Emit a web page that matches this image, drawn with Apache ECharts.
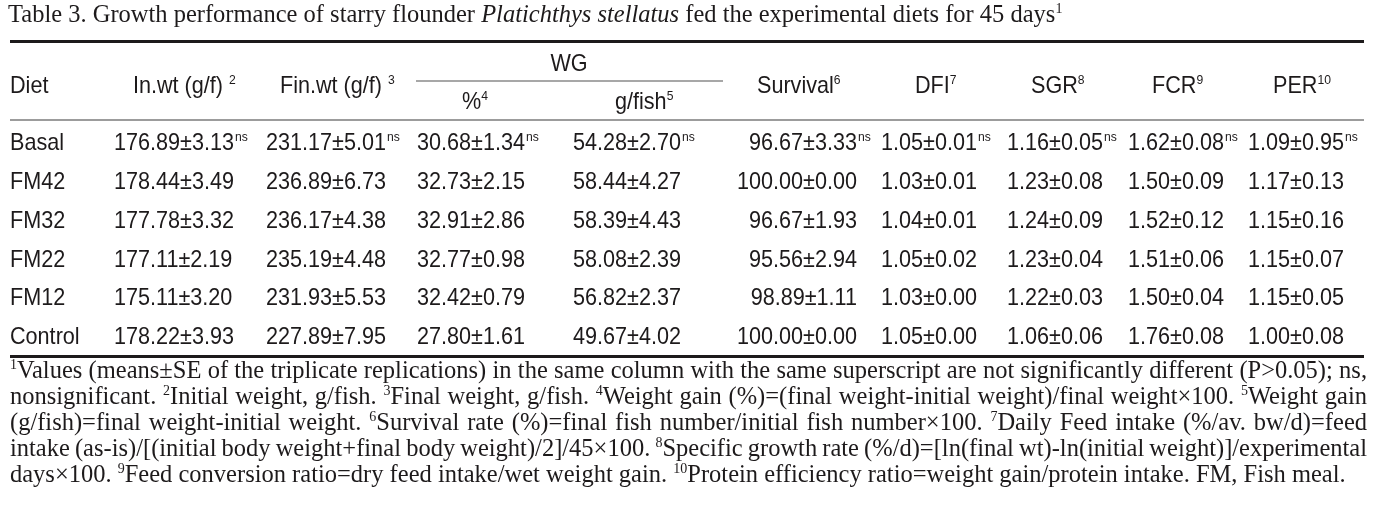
<!DOCTYPE html>
<html><head><meta charset="utf-8">
<script src="https://cdn.jsdelivr.net/npm/echarts@6/dist/echarts.min.js"></script>
<style>html,body{margin:0;padding:0;background:#fff}#c{width:1384px;height:526px}</style>
</head><body><div id="c"></div>
<script>
// ---------------- DATA ----------------
const diets = ['Basal', 'FM42', 'FM32', 'FM22', 'FM12', 'Control'];
const inWtMean = [176.89, 178.44, 177.78, 177.11, 175.11, 178.22];
const inWtSE   = [3.13, 3.49, 3.32, 2.19, 3.20, 3.93];
const finWtMean = [231.17, 236.89, 236.17, 235.19, 231.93, 227.89];
const finWtSE   = [5.01, 6.73, 4.38, 4.48, 5.53, 7.95];
const wgPctMean = [30.68, 32.73, 32.91, 32.77, 32.42, 27.80];
const wgPctSE   = [1.34, 2.15, 2.86, 0.98, 0.79, 1.61];
const wgGMean = [54.28, 58.44, 58.39, 58.08, 56.82, 49.67];
const wgGSE   = [2.70, 4.27, 4.43, 2.39, 2.37, 4.02];
const survivalMean = [96.67, 100.00, 96.67, 95.56, 98.89, 100.00];
const survivalSE   = [3.33, 0.00, 1.93, 2.94, 1.11, 0.00];
const dfiMean = [1.05, 1.03, 1.04, 1.05, 1.03, 1.05];
const dfiSE   = [0.01, 0.01, 0.01, 0.02, 0.00, 0.00];
const sgrMean = [1.16, 1.23, 1.24, 1.23, 1.22, 1.06];
const sgrSE   = [0.05, 0.08, 0.09, 0.04, 0.03, 0.06];
const fcrMean = [1.62, 1.50, 1.52, 1.51, 1.50, 1.76];
const fcrSE   = [0.08, 0.09, 0.12, 0.06, 0.04, 0.08];
const perMean = [1.09, 1.17, 1.15, 1.15, 1.15, 1.00];
const perSE   = [0.95, 0.13, 0.16, 0.07, 0.05, 0.08];
const sigMarks = ['ns', '', '', '', '', ''];

const titleText = ['Table 3. Growth performance of starry flounder ', 'Platichthys stellatus', ' fed the experimental diets for 45 days', '1'];
const headerMain = ['Diet', 'In.wt (g/f)', 'Fin.wt (g/f)', '%', 'g/fish', 'Survival', 'DFI', 'SGR', 'FCR', 'PER'];
const headerSup  = ['', '2', '3', '4', '5', '6', '7', '8', '9', '10'];
const groupHeader = 'WG';
const footnotes = [
  '^1Values (means±SE of the triplicate replications) in the same column with the same superscript are not significantly different (P>0.05); ns,',
  'nonsignificant. ^2Initial weight, g/fish. ^3Final weight, g/fish. ^4Weight gain (%)=(final weight-initial weight)/final weight×100. ^5Weight gain',
  '(g/fish)=final weight-initial weight. ^6Survival rate (%)=final fish number/initial fish number×100. ^7Daily Feed intake (%/av. bw/d)=feed',
  'intake (as-is)/[(initial body weight+final body weight)/2]/45×100. ^8Specific growth rate (%/d)=[ln(final wt)-ln(initial weight)]/experimental',
  'days×100. ^9Feed conversion ratio=dry feed intake/wet weight gain. ^10Protein efficiency ratio=weight gain/protein intake. FM, Fish meal.'
];

// ---------------- LAYOUT / STYLE ----------------
const SANS = '"Liberation Sans", Arial, sans-serif';
const SERIF = '"Liberation Serif", "Times New Roman", serif';
const INK = '#1d1a1b';
const BODY_PX = 24, SUP_PX = 13.5, SANS_SX = 0.9;
const COLS = [
  { x: 10, align: 'left' },
  { x: 114, align: 'left', mean: inWtMean, se: inWtSE },
  { x: 266, align: 'left', mean: finWtMean, se: finWtSE },
  { x: 417, align: 'left', mean: wgPctMean, se: wgPctSE },
  { x: 573, align: 'left', mean: wgGMean, se: wgGSE },
  { x: 857, align: 'right', mean: survivalMean, se: survivalSE },
  { x: 881, align: 'left', mean: dfiMean, se: dfiSE },
  { x: 1007, align: 'left', mean: sgrMean, se: sgrSE },
  { x: 1128, align: 'left', mean: fcrMean, se: fcrSE },
  { x: 1248, align: 'left', mean: perMean, se: perSE }
];
const HEAD_X = [10, 133, 280, 462, 615, 757, 915, 1031, 1152, 1273];
const HEAD_Y = [86, 86, 86, 102, 102, 86, 86, 86, 86, 86];

const mctx = document.createElement('canvas').getContext('2d');
function tw(s, font) { mctx.font = font; return mctx.measureText(s).width; }
const f = (px, fam, style) => (style ? style + ' ' : '') + px + 'px ' + fam;

function txt(x, y, s, font, align, sx) {
  const el = {
    type: 'text', x: x, y: y, silent: true,
    style: { text: s, font: font, fill: INK, align: align || 'left', verticalAlign: 'middle',
             textAlign: align || 'left', textVerticalAlign: 'middle' }
  };
  if (sx && sx !== 1) el.scaleX = sx;
  return el;
}
// sequential runs of text with different fonts
function runs(x, y, parts, sx) {
  const out = [];
  let cx = x;
  sx = sx || 1;
  parts.forEach(p => {
    out.push(txt(cx, y + (p.dy || 0), p.t, p.font, 'left', sx));
    cx += tw(p.t, p.font) * sx;
  });
  return out;
}

const graphics = [];
// title
const tFont = f(24.5, SERIF), tItal = f(24.5, SERIF, 'italic'), tSup = f(14, SERIF);
graphics.push(...runs(8, 16, [
  { t: titleText[0], font: tFont }, { t: titleText[1], font: tItal },
  { t: titleText[2], font: tFont }, { t: titleText[3], font: tSup, dy: -7 }
]));
// rules
function rule(x1, x2, y, w, c) {
  return { type: 'line', silent: true, shape: { x1: x1, y1: y, x2: x2, y2: y }, style: { stroke: c, lineWidth: w } };
}
graphics.push(rule(10, 1364, 41.5, 3, INK));
graphics.push(rule(416, 723, 81, 1.5, '#8a8a8a'));
graphics.push(rule(10, 1364, 120, 1.2, '#3a3a3a'));
graphics.push(rule(10, 1364, 356.5, 3, INK));
// headers
const hFont = f(BODY_PX, SANS), hSup = f(SUP_PX, SANS);
graphics.push(txt(569, 64, groupHeader, hFont, 'center', SANS_SX));
headerMain.forEach((h, i) => {
  const sp = (i === 1 || i === 2) ? ' ' : '';
  graphics.push(...runs(HEAD_X[i], HEAD_Y[i], [
    { t: h + sp, font: hFont }, { t: headerSup[i], font: hSup, dy: -6 }
  ], SANS_SX));
});
// footnotes (justified)
const fnFont = f(24.5, SERIF), fnSup = f(14, SERIF);
const FN_X0 = 10, FN_X1 = 1367, FN_Y0 = 372, FN_DY = 26;
footnotes.forEach((line, li) => {
  const words = line.split(' ').map(w => {
    const m = w.match(/^\^(\d+)(.*)$/);
    return m ? { sup: m[1], main: m[2] } : { sup: '', main: w };
  });
  words.forEach(w => { w.width = tw(w.sup, fnSup) + tw(w.main, fnFont); });
  const total = words.reduce((a, w) => a + w.width, 0);
  const last = li === footnotes.length - 1;
  let gap = last ? tw(' ', fnFont) : (FN_X1 - FN_X0 - total) / (words.length - 1);
  let sx = 1;
  if (gap < 3) { // squeeze slightly if the natural line is too long
    sx = (FN_X1 - FN_X0 - 3 * (words.length - 1)) / total;
    gap = 3;
  }
  let cx = FN_X0;
  const y = FN_Y0 + li * FN_DY;
  words.forEach(w => {
    const parts = [];
    if (w.sup) parts.push({ t: w.sup, font: fnSup, dy: -7 });
    parts.push({ t: w.main, font: fnFont });
    graphics.push(...runs(cx, y, parts, sx));
    cx += w.width * sx + gap;
  });
});

// ---------------- CELLS (custom series on category rows) ----------------
const cellData = [];
diets.forEach((d, r) => COLS.forEach((c, ci) => cellData.push([ci, r])));
const fmt = v => v.toFixed(2);

function renderCell(params, api) {
  const ci = api.value(0), r = api.value(1);
  const col = COLS[ci];
  const p = api.coord([col.x, r]);
  const bodyFont = f(BODY_PX, SANS), supFont = f(SUP_PX, SANS);
  const main = ci === 0 ? diets[r] : fmt(col.mean[r]) + '±' + fmt(col.se[r]);
  const sup = ci === 0 ? '' : sigMarks[r];
  const w = tw(main, bodyFont) * SANS_SX;
  const x0 = col.align === 'right' ? p[0] - w : p[0];
  const children = [txt(x0, p[1], main, bodyFont, 'left', SANS_SX)];
  if (sup) children.push(txt(x0 + w + 1, p[1] - 6, sup, supFont, 'left', SANS_SX));
  return { type: 'group', children: children };
}

const chart = echarts.init(document.getElementById('c'), null, { renderer: 'canvas' });
chart.setOption({
  animation: false,
  backgroundColor: '#ffffff',
  grid: { left: 0, right: 0, top: 124, height: 233, containLabel: false },
  xAxis: { type: 'value', min: 0, max: 1384, show: false },
  yAxis: { type: 'category', data: diets, inverse: true, show: false },
  series: [{ type: 'custom', data: cellData, renderItem: renderCell, silent: true }],
  graphic: { elements: graphics }
});
</script></body></html>
